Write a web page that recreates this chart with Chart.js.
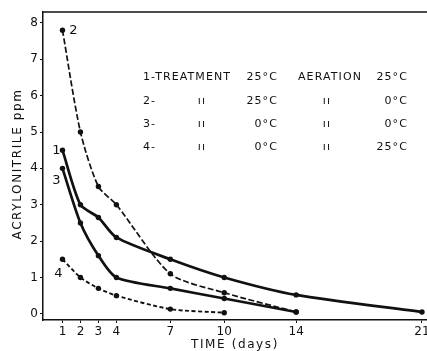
<!DOCTYPE html>
<html>
<head>
<meta charset="utf-8">
<script src="https://cdn.jsdelivr.net/npm/chart.js@4.4.1/dist/chart.umd.min.js"></script>
<style>
  html, body { margin: 0; padding: 0; background: #fff; overflow: hidden; }
  #wrap { width: 427px; height: 351px; overflow: hidden; }
</style>
</head>
<body>
<div id="wrap"><canvas id="chart" width="440" height="351" style="width:440px;height:351px"></canvas></div>
<script>
// Chart data
const tickDays = [1, 2, 3, 4, 7, 10, 14, 21];
const ppmTicks = [0, 1, 2, 3, 4, 5, 6, 7, 8];
const days1 = [1, 2, 3, 4, 7, 10, 14, 21];
const days2 = [1, 2, 3, 4, 7, 10, 14];
const days3 = [1, 2, 3, 4, 7, 10, 14];
const days4 = [1, 2, 3, 4, 7, 10];
const curve1 = [4.5, 3.0, 2.65, 2.1, 1.5, 1.0, 0.52, 0.05];
const curve2 = [7.8, 5.0, 3.5, 3.0, 1.1, 0.58, 0.05];
const curve3 = [4.0, 2.5, 1.6, 1.0, 0.7, 0.42, 0.05];
const curve4 = [1.5, 1.0, 0.7, 0.5, 0.13, 0.03];
const curveNames = ['1', '2', '3', '4'];

const legendRows = [
    ['1-TREATMENT', '25°C', 'AERATION', '25°C'],
    ['2-', 'ıı', '25°C', 'ıı', '0°C'],
    ['3-', 'ıı', '0°C', 'ıı', '0°C'],
    ['4-', 'ıı', '0°C', 'ıı', '25°C']
];

const ink = '#111';
const fontFam = '"DejaVu Sans", "Liberation Sans", sans-serif';

function toPoints(xs, ys) {
    return xs.map((x, i) => ({ x: x, y: ys[i] }));
}

function lineSet(xs, ys, width, dash) {
    return {
        data: toPoints(xs, ys),
        borderColor: ink,
        backgroundColor: ink,
        borderWidth: width,
        borderDash: dash,
        pointRadius: 2.7,
        pointBackgroundColor: ink,
        pointBorderWidth: 0,
        tension: 0.25,
        fill: false
    };
}

// labels next to first points, treatment table, axis titles, top frame line
const extrasPlugin = {
    id: 'extras',
    afterDatasetsDraw(chart) {
        const ctx = chart.ctx;
        const xs = chart.scales.x;
        const ys = chart.scales.y;
        const area = chart.chartArea;
        ctx.save();

        // top frame line
        ctx.strokeStyle = ink;
        ctx.lineWidth = 1.5;
        ctx.beginPath();
        ctx.moveTo(area.left, area.top);
        ctx.lineTo(area.right, area.top);
        ctx.stroke();

        // curve numbers
        ctx.fillStyle = ink;
        ctx.font = '13px ' + fontFam;
        ctx.textAlign = 'center';
        ctx.textBaseline = 'middle';
        const firsts = [curve1[0], curve2[0], curve3[0], curve4[0]];
        const offs = [[-6, 0], [11, 0], [-6, 12], [-4, 14]];
        firsts.forEach((v, i) => {
            const px = xs.getPixelForValue(1) + offs[i][0];
            const py = ys.getPixelForValue(v) + offs[i][1];
            ctx.fillText(curveNames[i], px, py);
        });

        // axis titles
        ctx.font = '12px ' + fontFam;
        ctx.letterSpacing = '1.6px';
        ctx.fillText('TIME (days)', 235, 345);
        ctx.save();
        ctx.translate(18, 164);
        ctx.rotate(-Math.PI / 2);
        ctx.fillText('ACRYLONITRILE ppm', 0, 0);
        ctx.restore();

        // treatment table
        ctx.font = '11px ' + fontFam;
        ctx.letterSpacing = '1.1px';
        const rowY = [77, 101, 124, 147];
        const r0 = legendRows[0];
        ctx.textAlign = 'left';
        ctx.fillText(r0[0], 143, rowY[0]);
        ctx.fillText(r0[2], 298, rowY[0]);
        ctx.textAlign = 'right';
        ctx.fillText(r0[1], 278, rowY[0]);
        ctx.fillText(r0[3], 408, rowY[0]);
        for (let i = 1; i < legendRows.length; i++) {
            const r = legendRows[i];
            ctx.textAlign = 'left';
            ctx.fillText(r[0], 143, rowY[i]);
            ctx.textAlign = 'center';
            ctx.fillText(r[1], 202, rowY[i]);
            ctx.fillText(r[3], 327, rowY[i]);
            ctx.textAlign = 'right';
            ctx.fillText(r[2], 278, rowY[i]);
            ctx.fillText(r[4], 408, rowY[i]);
        }
        ctx.restore();
    }
};

const ctx = document.getElementById('chart').getContext('2d');
new Chart(ctx, {
    type: 'line',
    data: {
        datasets: [
            lineSet(days1, curve1, 2.7, []),
            lineSet(days2, curve2, 1.7, [6, 2.5]),
            lineSet(days3, curve3, 2.7, []),
            lineSet(days4, curve4, 1.9, [4, 2.5])
        ]
    },
    options: {
        responsive: false,
        animation: false,
        layout: { padding: { top: 12, right: 0, left: 0, bottom: 0 } },
        plugins: {
            legend: { display: false },
            tooltip: { enabled: false }
        },
        scales: {
            x: {
                type: 'linear',
                min: -0.083,
                max: 21.78,
                afterBuildTicks: (scale) => {
                    scale.ticks = tickDays.map(v => ({ value: v }));
                },
                afterFit: (scale) => { scale.height = 31; },
                grid: { display: true, drawOnChartArea: false, tickLength: 3, color: ink, lineWidth: 1 },
                border: { display: true, color: ink, width: 1.5 },
                ticks: {
                    color: ink,
                    padding: 2,
                    maxRotation: 0,
                    autoSkip: false,
                    font: { family: fontFam, size: 12 },
                    callback: (v) => String(v)
                }
            },
            y: {
                min: -0.17,
                max: 8.3,
                afterBuildTicks: (scale) => {
                    scale.ticks = ppmTicks.map(v => ({ value: v }));
                },
                afterFit: (scale) => { scale.width = 43; },
                grid: { display: true, drawOnChartArea: false, tickLength: 3, color: ink, lineWidth: 1 },
                border: { display: true, color: ink, width: 1.5 },
                ticks: {
                    color: ink,
                    padding: 2,
                    font: { family: fontFam, size: 12 }
                }
            }
        }
    },
    plugins: [extrasPlugin]
});
</script>
</body>
</html>
